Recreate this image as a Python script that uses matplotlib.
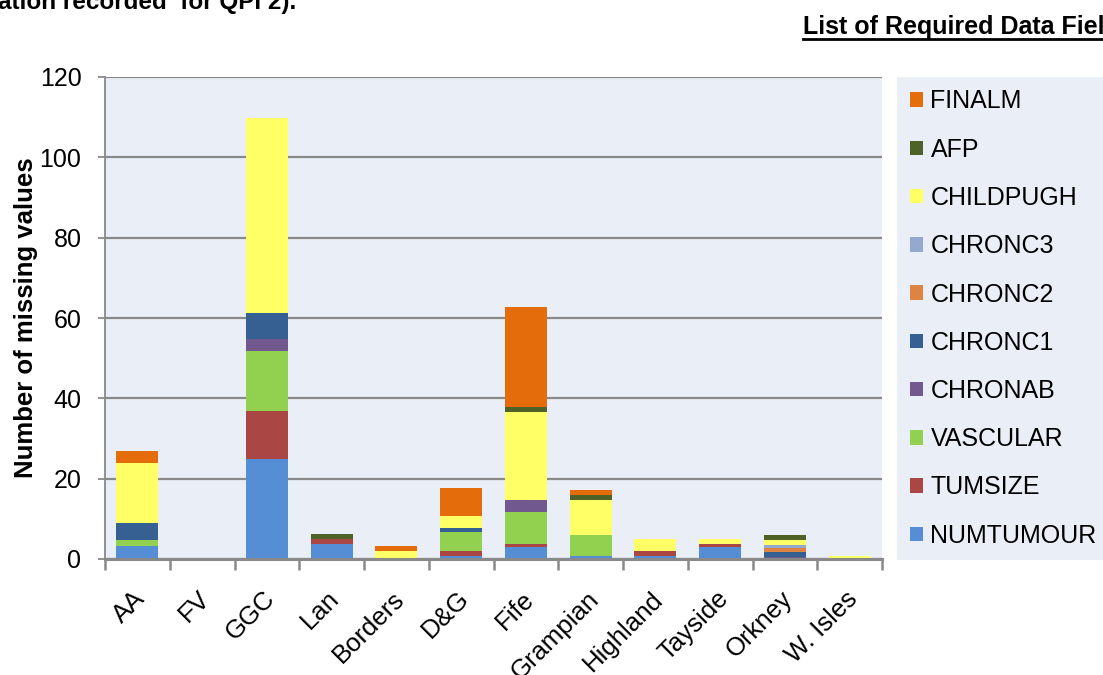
import matplotlib
matplotlib.use('Agg')
import matplotlib.pyplot as plt
from matplotlib.lines import Line2D
from matplotlib.transforms import ScaledTranslation
import numpy as np

plt.rcParams['font.family'] = ['Liberation Sans', 'DejaVu Sans']

# Categories (health boards)
regions = ['AA', 'FV', 'GGC', 'Lan', 'Borders', 'D&G', 'Fife',
           'Grampian', 'Highland', 'Tayside', 'Orkney', 'W. Isles']

# Missing values per field
numtumour = [3.2, 0, 24.8, 3.8, 0, 0.8, 3.0, 0.8, 0.8, 3.0, 0, 0]
tumsize = [0, 0, 12.0, 1.2, 0, 1.2, 0.8, 0, 1.2, 0.8, 0, 0]
vascular = [1.5, 0, 15.0, 0, 0, 4.7, 8.0, 5.2, 0, 0, 0, 0]
chronab = [0, 0, 3.0, 0, 0, 0, 3.0, 0, 0, 0, 0.5, 0]
chronc1 = [4.2, 0, 6.5, 0, 0, 1.0, 0, 0, 0, 0, 1.2, 0]
chronc2 = [0, 0, 0, 0, 0, 0, 0, 0, 0, 0, 1.0, 0]
chronc3 = [0, 0, 0, 0, 0, 0, 0, 0, 0, 0, 0.75, 0]
childpugh = [14.9, 0, 48.5, 0, 2.0, 3.0, 21.9, 8.7, 3.0, 1.25, 1.25, 0.8]
afp = [0, 0, 0, 1.2, 0, 0, 1.25, 1.25, 0, 0, 1.25, 0]
finalm = [3.0, 0, 0, 0, 1.25, 7.0, 24.9, 1.25, 0, 0, 0, 0]

series = [
    ('NUMTUMOUR', numtumour, '#558ed5'),
    ('TUMSIZE', tumsize, '#aa4643'),
    ('VASCULAR', vascular, '#92d050'),
    ('CHRONAB', chronab, '#71588f'),
    ('CHRONC1', chronc1, '#366092'),
    ('CHRONC2', chronc2, '#dd8442'),
    ('CHRONC3', chronc3, '#95a9d0'),
    ('CHILDPUGH', childpugh, '#ffff66'),
    ('AFP', afp, '#4f6228'),
    ('FINALM', finalm, '#e46c0a'),
]

BG = '#eaeff7'
GRID = '#898989'
FS = 18

W, H = 1103, 675
fig = plt.figure(figsize=(W / 100, H / 100), dpi=100)
fig.patch.set_facecolor('white')
ax = fig.add_axes([105 / W, 1 - 559 / H, 777 / W, 482 / H])
ax.set_facecolor(BG)

x = np.arange(len(regions))
bottom = np.zeros(len(regions))
handles = []
for name, vals, col in series:
    b = ax.bar(x, vals, width=0.65, bottom=bottom, color=col,
               edgecolor='none', label=name)
    handles.append(b)
    bottom += np.array(vals)

ax.set_xlim(-0.5, len(regions) - 0.5)
ax.set_ylim(0, 120)
ax.set_yticks(range(0, 121, 20))
ax.set_axisbelow(True)
ax.yaxis.grid(True, color=GRID, linewidth=1.6)

for s in ['top', 'right']:
    ax.spines[s].set_visible(False)
ax.spines['left'].set_color(GRID)
ax.spines['left'].set_linewidth(1.3)
ax.spines['bottom'].set_color(GRID)
ax.spines['bottom'].set_linewidth(2.2)

ax.tick_params(axis='y', length=5, width=1.3, color=GRID, pad=12,
               labelsize=FS)
ax.set_xticks(x)
ax.set_xticks(np.arange(-0.5, len(regions), 1), minor=True)
ax.tick_params(axis='x', which='major', length=0, pad=26, labelsize=18.5)
ax.tick_params(axis='x', which='minor', length=8, width=1.8, color=GRID)
ax.set_xticklabels(regions, rotation=45, ha='right', va='center',
                   rotation_mode='anchor')
shift = ScaledTranslation(3 / 72, 0, fig.dpi_scale_trans)
for lab in ax.get_xticklabels():
    lab.set_transform(lab.get_transform() + shift)

ax.set_ylabel('Number of missing values', fontsize=18.5, fontweight='bold')
ax.yaxis.set_label_coords((38 - 105) / 777, 0.5)

# Legend (reversed order, box runs off the right edge)
leg = fig.legend(handles[::-1], [s[0] for s in series][::-1],
                 loc='upper left', bbox_to_anchor=(897 / W, 1 - 77 / H),
                 bbox_transform=fig.transFigure, borderaxespad=0,
                 fontsize=FS, frameon=True, fancybox=False,
                 facecolor=BG, edgecolor='none', framealpha=1,
                 handlelength=0.52, handleheight=0.52, handletextpad=0.32,
                 labelspacing=0.97, borderpad=0.5)

# Header text cut off by the page
fig.text(-2 / W, 1 - 9 / H, 'ation recorded  for QPI 2).', fontsize=17.5,
         fontweight='bold', ha='left', va='baseline')
fig.text(803 / W, 1 - 34 / H, 'List of Required Data Fields', fontsize=18,
         fontweight='bold', ha='left', va='baseline')
fig.add_artist(Line2D([803 / W, 1.0], [1 - 38.5 / H, 1 - 38.5 / H],
                      transform=fig.transFigure, color='black', linewidth=2))

fig.savefig('out.png', dpi=100, facecolor='white')
